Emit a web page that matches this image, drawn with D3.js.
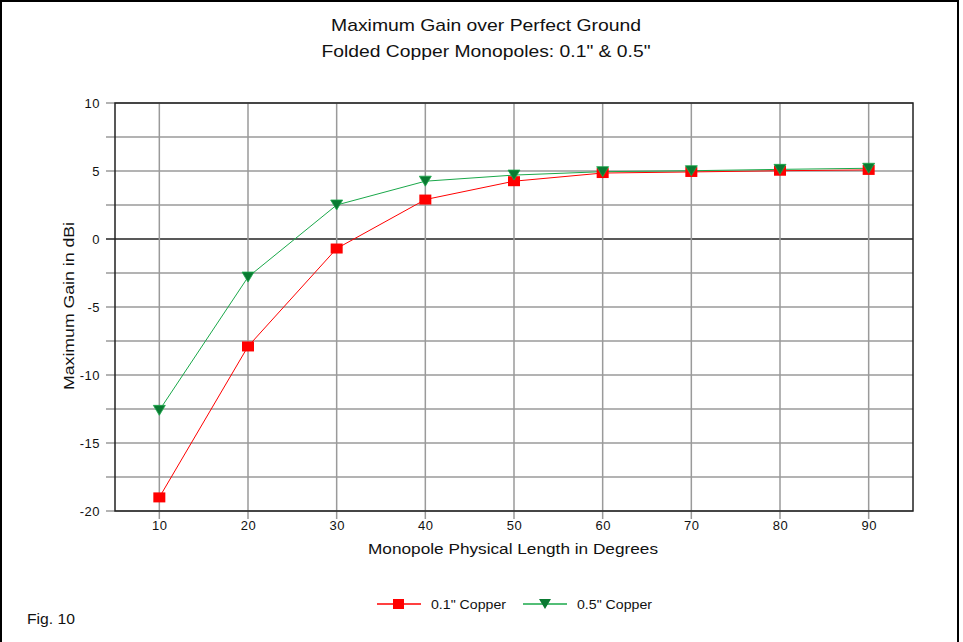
<!DOCTYPE html>
<html><head><meta charset="utf-8">
<script src="https://cdn.jsdelivr.net/npm/d3@7"></script>
<style>body{margin:0;background:#fff;}svg{display:block;font-family:Arial,"Liberation Sans",sans-serif;}</style>
</head><body>
<svg id="c" width="963" height="642"></svg>
<script>
const lengths = [10, 20, 30, 40, 50, 60, 70, 80, 90];
const copper01 = [-19.0, -7.9, -0.7, 2.9, 4.25, 4.85, 4.93, 5.02, 5.08];
const copper05 = [-12.6, -2.8, 2.5, 4.25, 4.7, 4.95, 5.02, 5.12, 5.2];
const yTicks = [10, 5, 0, -5, -10, -15, -20];
const yGrid = [10, 7.5, 5, 2.5, 0, -2.5, -5, -7.5, -10, -12.5, -15, -17.5, -20];
const seriesNames = ['0.1" Copper', '0.5" Copper'];
const titles = ["Maximum Gain over Perfect Ground", 'Folded Copper Monopoles: 0.1" & 0.5"'];

const svg = d3.select("#c");
const L = 115, R = 913, T = 103, B = 511;
const x = d3.scaleLinear().domain([5, 95]).range([L, R]);
const y = d3.scaleLinear().domain([-20, 10]).range([B, T]);

// outer frame
svg.append("rect").attr("x", 1).attr("y", 1).attr("width", 957).attr("height", 645)
  .attr("fill", "none").attr("stroke", "#000").attr("stroke-width", 2);

// titles
const tLens = [310, 329];
svg.selectAll("text.title").data(titles).enter().append("text")
  .attr("x", 486).attr("y", (d, i) => 31 + i * 26).attr("text-anchor", "middle")
  .attr("font-size", 17).attr("fill", "#111")
  .attr("textLength", (d, i) => tLens[i]).attr("lengthAdjust", "spacingAndGlyphs").text(d => d);

// horizontal grid
svg.append("g").selectAll("line").data(yGrid).enter().append("line")
  .attr("x1", L - 9).attr("x2", R).attr("y1", d => y(d)).attr("y2", d => y(d))
  .attr("stroke", d => d === 0 ? "#222" : "#9a9a9a").attr("stroke-width", 1.5);
// vertical grid
svg.append("g").selectAll("line").data(lengths).enter().append("line")
  .attr("x1", d => x(d)).attr("x2", d => x(d)).attr("y1", T).attr("y2", B + 8)
  .attr("stroke", "#9a9a9a").attr("stroke-width", 1.5);

// frame of plot
svg.append("rect").attr("x", L).attr("y", T).attr("width", R - L).attr("height", B - T)
  .attr("fill", "none").attr("stroke", "#222").attr("stroke-width", 1.5);

const fmt = d => String(d);
const yAxis = d3.axisLeft(y).tickValues(yTicks).tickSize(0).tickPadding(15).tickFormat(fmt);
const ya = svg.append("g").attr("transform", `translate(${L},0)`).call(yAxis);
ya.select(".domain").remove();
ya.selectAll("text").attr("font-size", 13).attr("letter-spacing", 0.5).attr("font-family", "Arial, 'Liberation Sans', sans-serif").attr("fill", "#111");

const xAxis = d3.axisBottom(x).tickValues(lengths).tickSize(0).tickPadding(10).tickFormat(fmt);
const xa = svg.append("g").attr("transform", `translate(0,${B})`).call(xAxis);
xa.select(".domain").remove();
xa.selectAll("text").attr("font-size", 13).attr("letter-spacing", 0.5).attr("font-family", "Arial, 'Liberation Sans', sans-serif").attr("fill", "#111");

// axis labels
svg.append("text").attr("x", 513).attr("y", 554).attr("text-anchor", "middle")
  .attr("font-size", 15.5).attr("fill", "#111").attr("textLength", 290).attr("lengthAdjust", "spacingAndGlyphs")
  .text("Monopole Physical Length in Degrees");
svg.append("text").attr("transform", "translate(74,306) rotate(-90)").attr("text-anchor", "middle")
  .attr("font-size", 15.5).attr("fill", "#111").attr("textLength", 168).attr("lengthAdjust", "spacingAndGlyphs")
  .text("Maximum Gain in dBi");
svg.append("text").attr("x", 27).attr("y", 624).attr("font-size", 15).attr("fill", "#111")
  .attr("textLength", 48).attr("lengthAdjust", "spacingAndGlyphs").text("Fig. 10");

const line = d3.line().x((d, i) => x(lengths[i])).y(d => y(d));
const cols = ["#ff0000", "#1aa84a"];
const markFill = ["#ff0000", "#0a7a32"];
[copper01, copper05].forEach((s, k) => {
  svg.append("path").attr("d", line(s)).attr("fill", "none").attr("stroke", cols[k]).attr("stroke-width", 1);
});
// markers
const tri = (cx, cy) => `M${cx - 6},${cy - 5}L${cx + 6},${cy - 5}L${cx},${cy + 5}Z`;
svg.append("g").selectAll("rect").data(copper01).enter().append("rect")
  .attr("x", (d, i) => x(lengths[i]) - 6).attr("y", d => y(d) - 5).attr("width", 12).attr("height", 10)
  .attr("fill", markFill[0]);
svg.append("g").selectAll("path").data(copper05).enter().append("path")
  .attr("d", (d, i) => tri(x(lengths[i]), y(d))).attr("fill", markFill[1]).attr("stroke", "#1aa84a").attr("stroke-width", 0.8);

// legend
const lg = svg.append("g");
const lx = [377, 523];
seriesNames.forEach((n, k) => {
  lg.append("line").attr("x1", lx[k]).attr("x2", lx[k] + 44).attr("y1", 604).attr("y2", 604)
    .attr("stroke", cols[k]).attr("stroke-width", 1.5);
  if (k === 0) lg.append("rect").attr("x", lx[k] + 16).attr("y", 599).attr("width", 11).attr("height", 10).attr("fill", markFill[0]);
  else lg.append("path").attr("d", tri(lx[k] + 22, 604)).attr("fill", markFill[1]);
  lg.append("text").attr("x", lx[k] + 54).attr("y", 608.5).attr("font-size", 13).attr("fill", "#111")
    .attr("textLength", 75).attr("lengthAdjust", "spacingAndGlyphs").text(n);
});
</script>
</body></html>
